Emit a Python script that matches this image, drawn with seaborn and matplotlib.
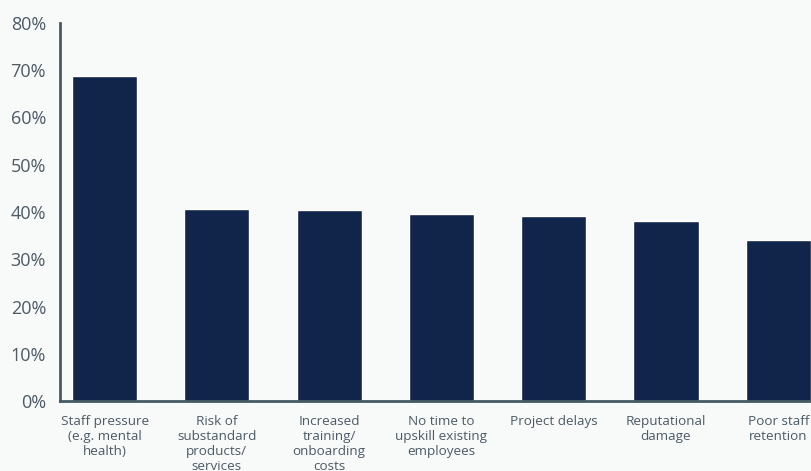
import matplotlib.pyplot as plt
import pandas as pd
import seaborn as sns
from matplotlib.ticker import PercentFormatter

categories = [
    'Staff pressure\n(e.g. mental\nhealth)',
    'Risk of\nsubstandard\nproducts/\nservices',
    'Increased\ntraining/\nonboarding\ncosts',
    'No time to\nupskill existing\nemployees',
    'Project delays',
    'Reputational\ndamage',
    'Poor staff\nretention',
]
values = [68.8, 40.6, 40.5, 39.6, 39.2, 38.2, 34.1]

bg = '#f8f9f9'
bar_color = '#11244a'
text_color = '#4d5b66'
axis_color = '#455a64'

sns.set_theme(style='white')
plt.rcParams['font.family'] = ['Open Sans', 'DejaVu Sans']

df = pd.DataFrame({'category': categories, 'value': values})

fig = plt.figure(figsize=(8.12, 4.71), dpi=100, facecolor=bg)
ax = fig.add_axes([60 / 812, 70 / 471, 752 / 812, 378 / 471])
ax.set_facecolor(bg)

sns.barplot(data=df, x='category', y='value', color=bar_color,
            saturation=1, width=0.58, ax=ax)

ax.set_ylim(0, 80)
ax.set_xlim(-0.397, 6.3)
ax.set_yticks(range(0, 81, 10))
ax.yaxis.set_major_formatter(PercentFormatter(decimals=0))
ax.set_xlabel('')
ax.set_ylabel('')

for side in ['top', 'right']:
    ax.spines[side].set_visible(False)
for side in ['left', 'bottom']:
    ax.spines[side].set_color(axis_color)
    ax.spines[side].set_linewidth(2)

ax.tick_params(axis='y', length=0, pad=10, labelsize=13, labelcolor=text_color)
ax.tick_params(axis='x', length=0, pad=10, labelsize=9.7, labelcolor=text_color)
for lbl in ax.get_xticklabels():
    lbl.set_linespacing(1.22)

fig.savefig('out.png', dpi=100, facecolor=bg)
plt.close(fig)
